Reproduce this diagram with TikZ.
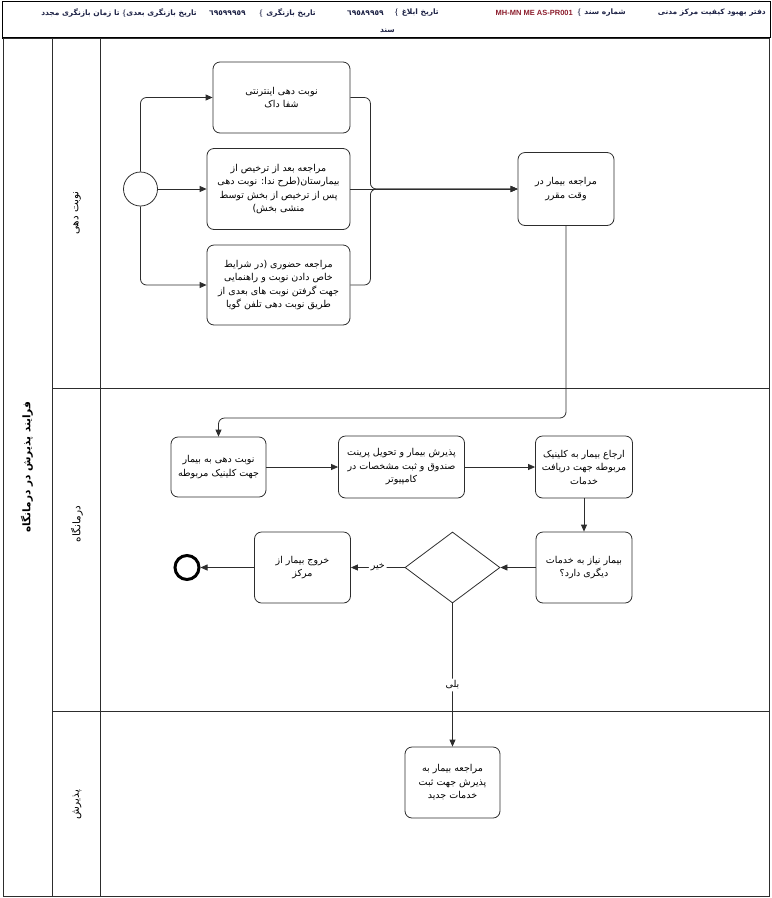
\documentclass[tikz,border=0pt]{standalone}
\usepackage{fontspec}
\usepackage{tikz}
\usetikzlibrary{arrows.meta,shapes.geometric}

\newfontfamily\arabicfont[Script=Arabic]{DejaVu Sans}
\newfontfamily\latinfont{Liberation Sans}
\TeXXeTstate=1
\newcommand{\fa}[1]{{\arabicfont\beginR #1\endR}}

\definecolor{edgegray}{RGB}{45,45,45}
\definecolor{headblue}{RGB}{30,35,70}
\definecolor{codered}{RGB}{140,30,45}

\begin{document}
\begin{tikzpicture}[x=1pt,y=-1pt,
    every node/.style={inner sep=1pt,font=\fontsize{9.5}{13.5}\selectfont},
    task/.style={draw=edgegray,line width=0.8pt,rounded corners=7pt,align=center},
    flow/.style={draw=edgegray,line width=0.8pt,rounded corners=6pt,-{Triangle[length=7pt,width=6pt]}},
    head/.style={anchor=east,text=headblue,font=\fontsize{7.5}{10}\selectfont\bfseries},
    lanename/.style={rotate=90,font=\fontsize{10.5}{12}\selectfont}]
\useasboundingbox (0,0) rectangle (772,898);

% header
\draw[line width=0.6pt] (2,1) -- (770,1) (2,1) -- (2,38) (770,1) -- (770,38);
\draw[line width=1.6pt] (2,38) -- (770,38);
\node[head] (h1) at (767,13) {\fa{دفتر بهبود کیفیت مرکز مدنی}};
\node[head] (h2) at (627,13) {\{\ \fa{شماره سند}};
\node[head,text=codered] (h3) at (574,13) {\latinfont MH-MN ME AS-PR001};
\node[head] (h4) at (440,13) {\{\ \fa{تاریخ ابلاغ}};
\node[head] (h5) at (385,13) {\arabicfont ٦٩٥٨٩٩٥٩};
\node[head] (h6) at (317,13) {\{\ \fa{تاریخ بازنگری}};
\node[head] (h7) at (247,13) {\arabicfont ٦٩٥٩٩٩٥٩};
\node[head] (h8) at (198,13) {\{\fa{تاریخ بازنگری بعدی}};
\node[head] (h9) at (121,13) {\fa{تا زمان بازنگری مجدد}};
\node[head] (h10) at (396,31) {\fa{سند}};

% pool and lanes
\draw[edgegray,line width=1pt] (3,38) rectangle (769,896);
\draw[edgegray,line width=1pt]
    (52,38) -- (52,896)
    (100,38) -- (100,896)
    (52,388) -- (769,388)
    (52,711) -- (769,711);
\node[lanename,font=\fontsize{10.5}{12}\selectfont\bfseries] (pool) at (27,467) {\fa{فرایند پذیرش در درمانگاه}};
\node[lanename] (L1) at (77,213) {\fa{نوبت دهی}};
\node[lanename] (L2) at (77,524) {\fa{درمانگاه}};
\node[lanename] (L3) at (77,805) {\fa{پذیرش}};

% lane 1
\node[circle,draw=edgegray,line width=0.8pt,minimum size=34pt,inner sep=0pt] (S) at (140.5,189) {};
\node[task,minimum width=137pt,minimum height=71pt] (A) at (281.5,97.5) {\fa{نوبت دهی اینترنتی}\\\fa{شفا داک}};
\node[task,minimum width=143pt,minimum height=81pt] (B) at (278.5,189) {\fa{مراجعه بعد از ترخیص از}\\\fa{بیمارستان(طرح ندا: نوبت دهی}\\\fa{پس از ترخیص از بخش توسط}\\\fa{منشی بخش)}};
\node[task,minimum width=143pt,minimum height=80pt] (C) at (278.5,285) {\fa{مراجعه حضوری (در شرایط}\\\fa{خاص دادن نوبت و راهنمایی}\\\fa{جهت گرفتن نوبت های بعدی از}\\\fa{طریق نوبت دهی تلفن گویا}};
\node[task,minimum width=96pt,minimum height=73pt] (D) at (566,189) {\fa{مراجعه بیمار در}\\\fa{وقت مقرر}};

% lane 2
\node[task,minimum width=95pt,minimum height=60pt] (E) at (218.5,467) {\fa{نوبت دهی به بیمار}\\\fa{جهت کلینیک مربوطه}};
\node[task,minimum width=126pt,minimum height=62pt] (F) at (401.5,467) {\fa{پذیرش بیمار و تحویل پرینت}\\\fa{صندوق و ثبت مشخصات در}\\\fa{کامپیوتر}};
\node[task,minimum width=97pt,minimum height=62pt] (G) at (584,467) {\fa{ارجاع بیمار به کلینیک}\\\fa{مربوطه جهت دریافت}\\\fa{خدمات}};
\node[task,minimum width=96pt,minimum height=71pt] (H) at (584,567.5) {\fa{بیمار نیاز به خدمات}\\\fa{دیگری دارد؟}};
\node[diamond,aspect=1.33,draw=edgegray,line width=0.8pt,minimum width=95pt,minimum height=71pt,inner sep=0pt] (Q) at (452.5,567.5) {};
\node[task,minimum width=96pt,minimum height=71pt] (I) at (302.5,567.5) {\fa{خروج بیمار از}\\\fa{مرکز}};
\node[circle,draw=black,line width=3pt,minimum size=24pt,inner sep=0pt] (End) at (187,567.5) {};

% lane 3
\node[task,minimum width=95pt,minimum height=71pt] (J) at (452.5,782.5) {\fa{مراجعه بیمار به}\\\fa{پذیرش جهت ثبت}\\\fa{خدمات جدید}};

\coordinate (bend) at (390,418);

\draw[flow] (S.north) |- (A.west);
\draw[flow] (S.east) -- (B.west);
\draw[flow] (S.south) |- (C.west);
\draw[flow] (A.east) -- ++(20,0) |- (D.west);
\draw[flow] (B.east) -- (D.west);
\draw[flow] (C.east) -- ++(20,0) |- (D.west);
\draw[flow] (D.south) |- (bend) -| (E.north);
\draw[flow] (E) -- (F);
\draw[flow] (F) -- (G);
\draw[flow] (G) -- (H);
\draw[flow] (H) -- (Q);
\draw[flow] (Q) -- node[fill=white,inner sep=2pt] {\fa{خیر}} (I);
\draw[flow] (I) -- (End);
\draw[flow] (Q) -- node[pos=0.57,fill=white,inner sep=2pt] {\fa{بلی}} (J);
\end{tikzpicture}
\end{document}
